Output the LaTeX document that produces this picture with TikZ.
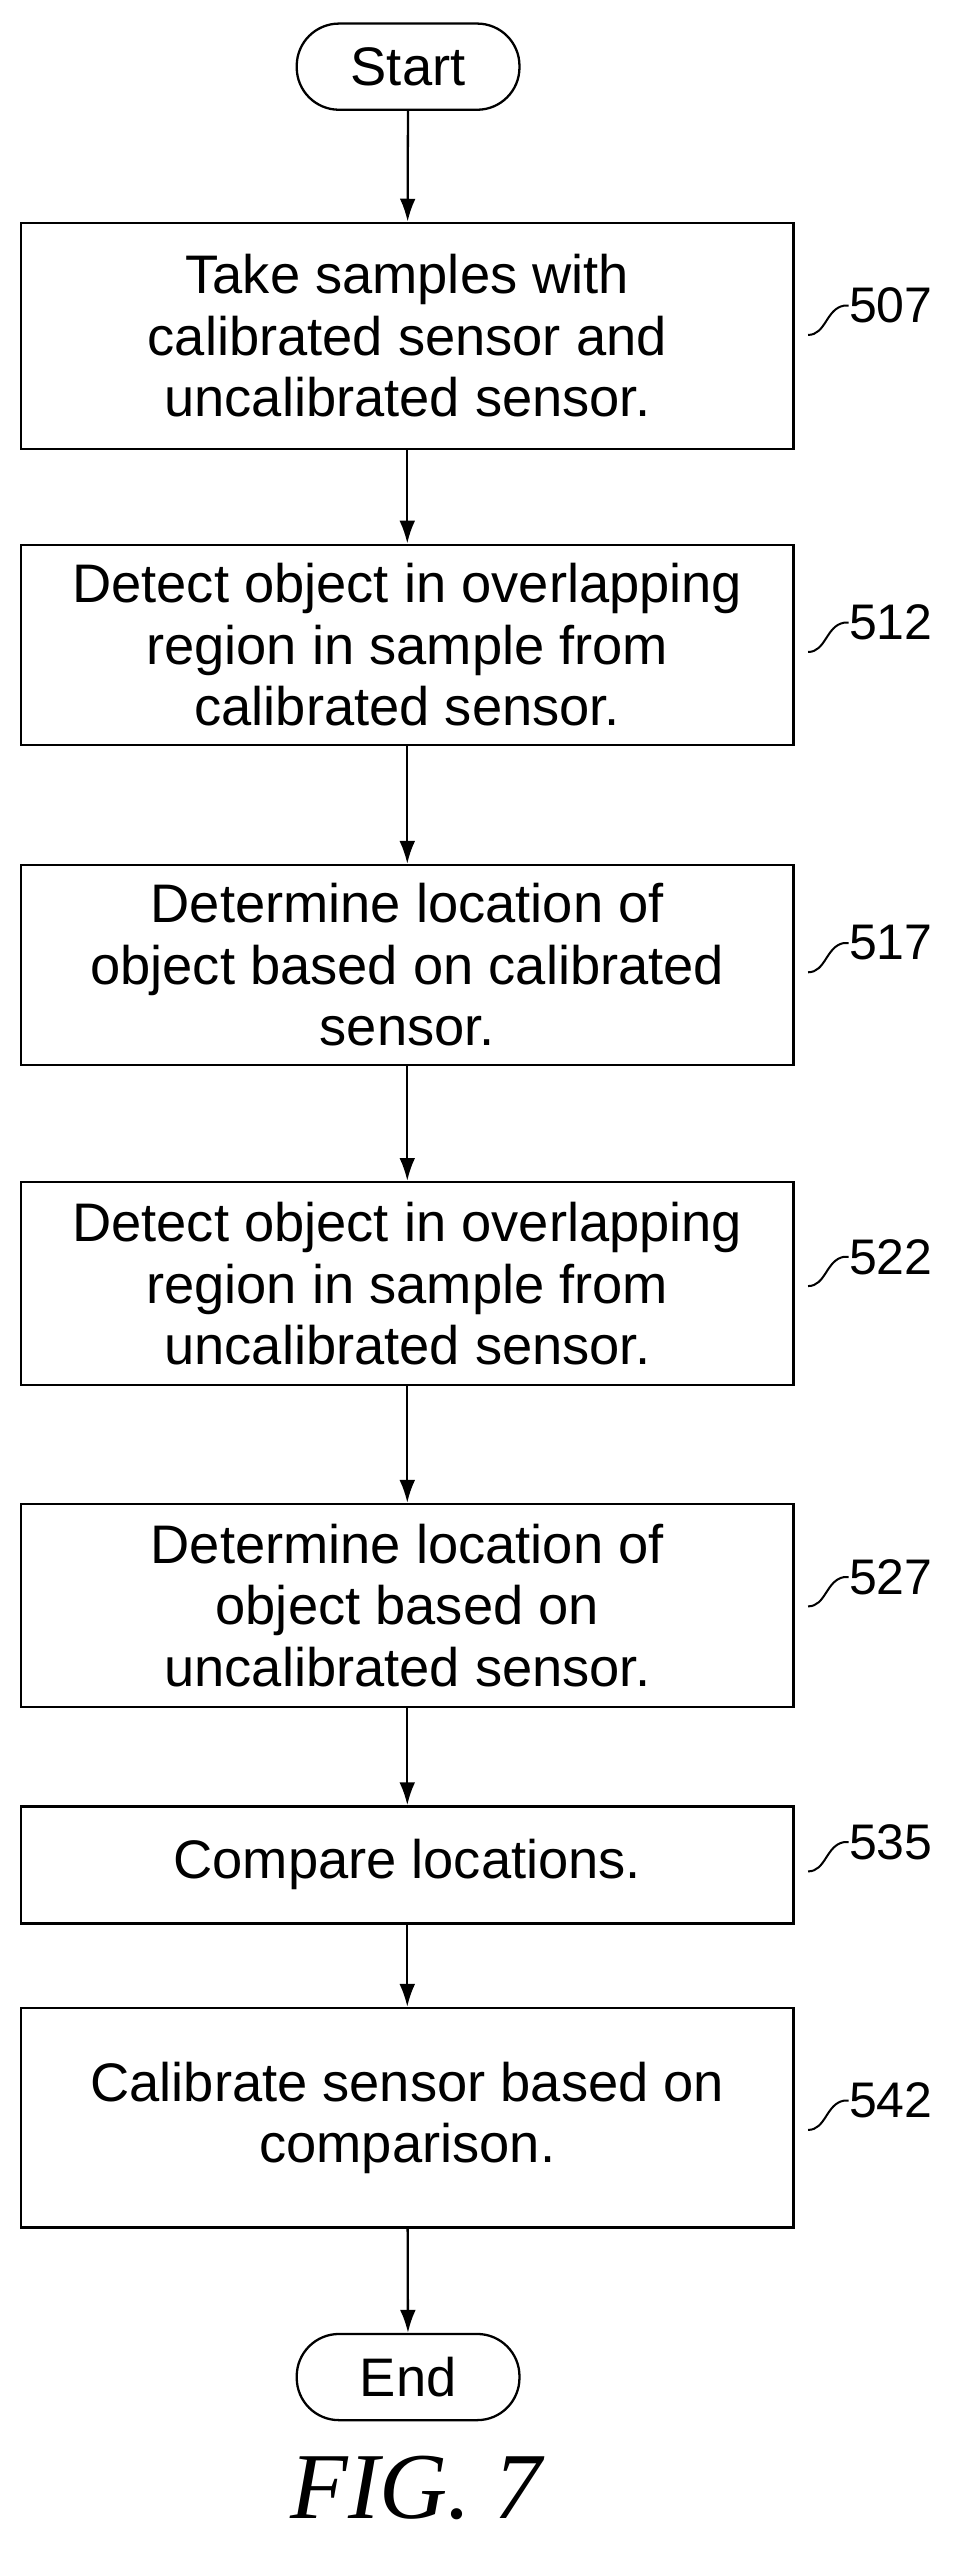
\documentclass[tikz,border=0pt]{standalone}
\usepackage{fontspec}
\setmainfont{Liberation Sans}
\newfontfamily\figfont{Liberation Serif}
\usetikzlibrary{arrows.meta}
\begin{document}
\begin{tikzpicture}[x=0.04cm,y=-0.04cm,
  box/.style={draw,line width=1.6pt,minimum width=475*0.04cm,align=center,font=\fontsize{38}{43}\selectfont,inner sep=0pt},
  term/.style={draw,line width=1.6pt,rounded corners=26*0.04cm,minimum width=137*0.04cm,minimum height=53*0.04cm,font=\fontsize{38}{43}\selectfont},
  arr/.style={line width=1.6pt,-{Latex[length=16pt,width=11pt]}},
  lbl/.style={font=\fontsize{35}{40}\selectfont,anchor=west,inner sep=0pt},
  lead/.style={line width=1.4pt}]
\useasboundingbox (0,0) rectangle (600,1569);
\node[term] (start) at (251,41) {Start};
\node[box,minimum height=139*0.04cm] (b507) at (250.5,206.5) {Take samples with\\calibrated sensor and\\uncalibrated sensor.};
\node[box,minimum height=123*0.04cm] (b512) at (250.5,396.5) {Detect object in overlapping\\region in sample from\\calibrated sensor.};
\node[box,minimum height=123*0.04cm] (b517) at (250.5,593.5) {Determine location of\\object based on calibrated\\sensor.};
\node[box,minimum height=125*0.04cm] (b522) at (250.5,789.5) {Detect object in overlapping\\region in sample from\\uncalibrated sensor.};
\node[box,minimum height=125*0.04cm] (b527) at (250.5,987.5) {Determine location of\\object based on\\uncalibrated sensor.};
\node[box,minimum height=72*0.04cm] (b535) at (250.5,1147) {Compare locations.};
\node[box,minimum height=135*0.04cm] (b542) at (250.5,1302.5) {Calibrate sensor based on\\comparison.};
\node[term] (end) at (251,1462) {End};
\draw[arr] (start) -- (b507);
\draw[arr] (b507) -- (b512);
\draw[arr] (b512) -- (b517);
\draw[arr] (b517) -- (b522);
\draw[arr] (b522) -- (b527);
\draw[arr] (b527) -- (b535);
\draw[arr] (b535) -- (b542);
\draw[arr] (b542) -- (end);
\foreach \n/\y in {507/188,512/383,517/580,522/773,527/970,535/1133,542/1292}{
  \node[lbl] (l\n) at (522,\y) {\n};
  \coordinate (s\n) at (497,\y+18);
  \draw[lead] (s\n) .. controls (508,\y+18) and (508,\y+2) .. (519,\y) -- (l\n.west);
}
\node[font=\figfont\itshape\fontsize{66}{70}\selectfont] (fig) at (256,1530) {FIG. 7};
\end{tikzpicture}
\end{document}
